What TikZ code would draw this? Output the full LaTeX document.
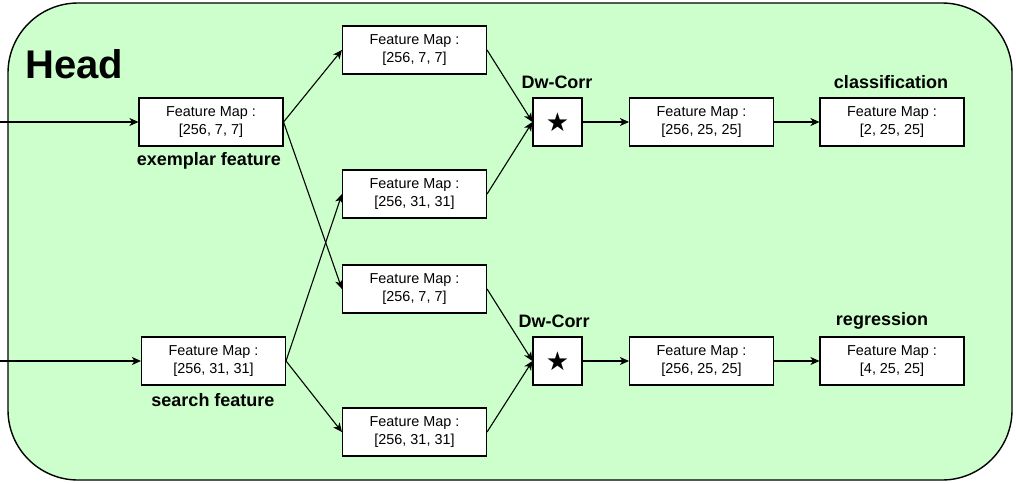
\documentclass[tikz,border=0pt]{standalone}
\usepackage{fontspec}
\setmainfont{Liberation Sans}
\newfontfamily\symfont{DejaVu Sans}
\usetikzlibrary{arrows.meta}
\definecolor{headgreen}{HTML}{CCFFCC}
\begin{document}
\begin{tikzpicture}[x=1pt,y=-1pt,
  box/.style={draw, fill=white, line width=1.1pt, minimum width=144pt, minimum height=48pt, inner sep=0pt, align=center, font=\fontsize{14.4}{18}\selectfont},
  starbox/.style={draw, fill=white, line width=1.1pt, minimum width=49pt, minimum height=48pt, inner sep=0pt, font=\symfont\fontsize{26}{26}\selectfont},
  lbl/.style={font=\bfseries\fontsize{18}{20}\selectfont, inner sep=0pt},
  arr/.style={-{Stealth[length=9pt,width=8pt,inset=2.5pt]}, line width=1.1pt}]
\useasboundingbox (0,0) rectangle (1016,483);
\node[draw, line width=1.4pt, fill=headgreen, rounded corners=70pt, minimum width=1004pt, minimum height=477pt, inner sep=0pt] (bg) at (510,241.5) {};
\node[font=\bfseries\fontsize{40}{44}\selectfont, anchor=west, inner sep=0pt] (head) at (25,64) {Head};
\node[box] (ex) at (211,122) {Feature Map :\\{}[256, 7, 7]};
\node[box] (se) at (213.5,361) {Feature Map :\\{}[256, 31, 31]};
\node[box] (m1) at (414.5,50) {Feature Map :\\{}[256, 7, 7]};
\node[box] (m2) at (414.5,194) {Feature Map :\\{}[256, 31, 31]};
\node[box] (m3) at (414.5,289) {Feature Map :\\{}[256, 7, 7]};
\node[box] (m4) at (414.5,432) {Feature Map :\\{}[256, 31, 31]};
\node[starbox] (s1) at (557.5,122) {★};
\node[starbox] (s2) at (557.5,361) {★};
\node[box] (c1) at (701.5,122) {Feature Map :\\{}[256, 25, 25]};
\node[box] (c2) at (701.5,361) {Feature Map :\\{}[256, 25, 25]};
\node[box] (f1) at (892,122) {Feature Map :\\{}[2, 25, 25]};
\node[box] (f2) at (892,361) {Feature Map :\\{}[4, 25, 25]};
\node[lbl] (lex) at (209,161) {exemplar feature};
\node[lbl] (lse) at (213,400) {search feature};
\node[lbl] (d1) at (557,82) {Dw-Corr};
\node[lbl] (d2) at (554,321) {Dw-Corr};
\node[lbl] (lc) at (891,82) {classification};
\node[lbl] (lr) at (882,321) {regression};
\coordinate (in1) at (0,122);
\coordinate (in2) at (0,361);
\draw[arr] (in1) -- (ex.west);
\draw[arr] (in2) -- (se.west);
\draw[arr] (ex.east) -- (m1.west);
\draw[arr] (ex.east) -- (m3.west);
\draw[arr] (se.east) -- (m2.west);
\draw[arr] (se.east) -- (m4.west);
\draw[arr] (m1.east) -- (s1.west);
\draw[arr] (m2.east) -- (s1.west);
\draw[arr] (m3.east) -- (s2.west);
\draw[arr] (m4.east) -- (s2.west);
\draw[arr] (s1.east) -- (c1.west);
\draw[arr] (s2.east) -- (c2.west);
\draw[arr] (c1.east) -- (f1.west);
\draw[arr] (c2.east) -- (f2.west);
\end{tikzpicture}
\end{document}
